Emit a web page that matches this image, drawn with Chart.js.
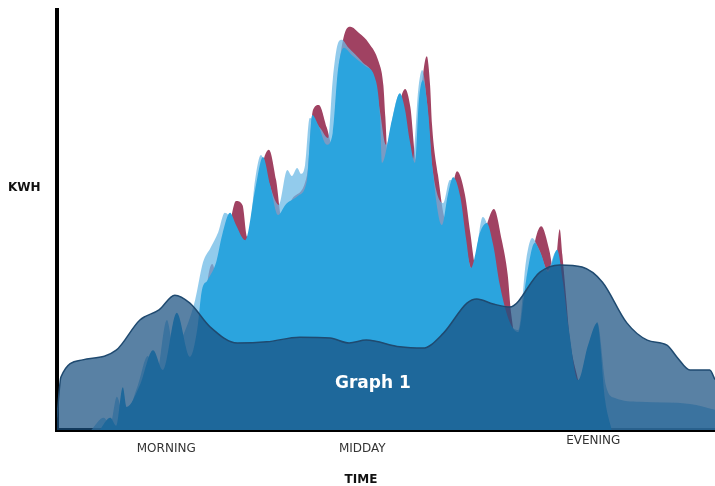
<!DOCTYPE html>
<html>
<head>
<meta charset="utf-8">
<script src="https://cdn.jsdelivr.net/npm/chart.js@4"></script>
<style>
  html, body { margin: 0; padding: 0; background: #fff; }
  #wrap { width: 715px; height: 486px; position: relative; }
</style>
</head>
<body>
<div id="wrap"><canvas id="kwhChart"></canvas></div>
<script>
// time runs 0..100 across the day, kwh 0..100
const periodLabels = ['MORNING', 'MIDDAY', 'EVENING'];
const periodAt = [16.6, 46.4, 81.5];

const brightUsage = [
    [6.5, 0], [8.1, 2.9], [9.0, 1.0], [10.0, 10.2], [10.6, 5.5], [12.6, 10.7], [14.6, 19.0],
    [16.1, 14.3], [18.2, 27.9], [20.2, 17.4], [21.3, 23.8], [22.0, 33.1], [22.9, 35.7],
    [24.2, 40.0], [25.1, 46.4], [26.3, 51.7], [27.2, 48.8], [28.6, 45.2], [30.1, 57.1],
    [31.3, 65.0], [32.4, 58.3], [33.6, 51.2], [34.7, 53.6], [36.6, 55.7], [38.0, 59.5],
    [38.8, 75.0], [39.7, 72.6], [41.0, 67.9], [41.9, 70.7], [42.7, 85.7], [43.6, 91.0],
    [44.8, 89.3], [46.8, 86.7], [48.5, 82.9], [49.1, 74.5], [49.4, 63.6], [50.9, 73.8],
    [52.1, 80.2], [52.9, 76.2], [53.6, 69.0], [54.4, 63.6], [55.0, 78.6], [55.6, 83.3],
    [56.4, 75.7], [57.1, 61.9], [58.5, 48.8], [59.4, 56.0], [60.2, 60.2], [61.3, 55.5],
    [62.2, 45.2], [62.9, 38.6], [64.3, 47.1], [65.3, 49.3], [66.3, 44.0], [67.3, 34.5],
    [68.8, 25.7], [70.1, 23.3], [71.3, 35.7], [72.6, 44.5], [73.6, 41.7], [74.6, 37.6],
    [76.0, 42.9], [76.9, 35.2], [77.8, 23.8], [79.2, 11.9], [80.7, 20.2], [82.1, 25.5],
    [83.3, 7.1], [84.3, 0]
];

const paleUsage = [
    [5.2, 0], [7.1, 2.9], [8.1, 1.2], [9.1, 7.9], [10.2, 2.9], [12.3, 10.7], [13.8, 17.6],
    [15.0, 12.4], [16.7, 26.2], [17.8, 19.0], [19.5, 23.8], [21.0, 31.0], [22.2, 40.0],
    [23.3, 43.3], [24.5, 47.1], [25.5, 51.7], [26.6, 50.0], [28.9, 42.9], [30.1, 59.5],
    [31.0, 65.5], [32.1, 59.5], [33.7, 53.6], [35.0, 61.9], [35.7, 60.5], [36.5, 62.4],
    [37.1, 61.0], [37.7, 63.1], [38.4, 74.3], [40.0, 71.9], [41.2, 69.5], [41.9, 83.3],
    [42.7, 92.1], [43.3, 92.9], [44.2, 91.2], [46.4, 87.6], [48.3, 83.3], [49.1, 75.7],
    [50.0, 67.9], [51.4, 77.4], [52.0, 79.8], [52.7, 75.0], [54.1, 64.3], [54.9, 81.0],
    [55.5, 85.7], [56.2, 78.6], [57.0, 63.1], [58.7, 54.0], [59.7, 59.5], [61.1, 56.0],
    [62.0, 45.2], [63.2, 38.1], [64.7, 50.7], [65.8, 46.4], [67.0, 34.5], [68.5, 26.2],
    [70.1, 23.8], [71.3, 40.5], [72.2, 45.7], [73.3, 42.9], [74.6, 38.1], [75.8, 42.4],
    [76.7, 34.5], [79.2, 11.2], [81.3, 21.4], [82.1, 25.7], [83.4, 10.7], [84.8, 7.6],
    [88.6, 6.7], [96.2, 6.2], [100, 4.8]
];

const peakUsage = [
    [21.5, 0], [22.6, 31.0], [23.6, 39.5], [24.3, 36.7], [25.2, 40.0], [26.4, 50.0],
    [27.2, 54.5], [28.2, 53.5], [28.9, 46.0], [29.8, 48.8], [31.2, 63.1], [32.2, 66.7],
    [33.3, 59.5], [34.2, 50.0], [35.8, 55.2], [38.0, 60.7], [38.9, 76.2], [39.8, 77.4],
    [41.0, 72.0], [41.9, 67.5], [42.8, 85.7], [43.8, 94.8], [44.6, 96.0], [45.9, 94.5],
    [47.4, 92.1], [48.9, 87.6], [49.6, 82.1], [49.9, 74.5], [50.3, 64.3], [51.8, 76.2],
    [52.9, 81.2], [53.7, 76.9], [54.6, 64.3], [55.4, 81.0], [56.2, 89.0], [56.7, 82.1],
    [57.0, 72.6], [57.9, 60.7], [59.1, 50.0], [60.8, 61.6], [62.0, 56.0], [62.8, 47.0],
    [63.6, 39.3], [65.4, 49.3], [66.4, 52.6], [67.6, 45.2], [68.5, 36.9], [69.0, 28.0],
    [70.4, 18.0], [72.5, 43.8], [73.6, 48.5], [74.8, 42.9], [75.6, 36.9], [76.4, 47.8],
    [76.8, 41.7], [77.4, 31.0], [77.9, 22.1], [79.2, 11.9], [81.0, 0]
];

const baseUsage = [
    [0, 3.0], [0.6, 12.6], [3.9, 16.7], [9.0, 19.0], [12.6, 26.2], [15.5, 28.6], [17.9, 32.1],
    [20.2, 30.2], [23.3, 24.5], [27.4, 20.7], [31.9, 21.0], [36.9, 22.1], [41.5, 21.9],
    [44.4, 20.7], [47.0, 21.4], [52.1, 19.8], [55.6, 19.5], [58.7, 23.0], [62.3, 30.2],
    [63.8, 31.2], [66.3, 30.0], [68.8, 29.3], [73.4, 37.6], [76.4, 39.3], [79.8, 38.8],
    [82.9, 35.2], [86.6, 25.5], [89.7, 21.4], [92.7, 20.2], [94.2, 17.4], [96.2, 14.3],
    [99.2, 14.3], [100, 12.0]
];

const toPoints = arr => arr.map(p => ({ x: p[0], y: p[1] }));

// higher order is drawn further back
const area = (label, data, color, order, extra) => Object.assign({
    label: label,
    data: toPoints(data),
    backgroundColor: color,
    borderWidth: 0,
    pointRadius: 0,
    fill: 'origin',
    order: order,
    cubicInterpolationMode: 'monotone'
}, extra || {});

// text labels round the plot
const labelsPlugin = {
    id: 'labels',
    afterDraw(chart) {
        const { ctx, chartArea, scales } = chart;
        ctx.save();
        ctx.textAlign = 'center';
        ctx.textBaseline = 'middle';

        ctx.fillStyle = '#333';
        ctx.font = '12px "DejaVu Sans"';
        periodLabels.forEach((t, i) => {
            const y = t === 'EVENING' ? chartArea.bottom + 11 : chartArea.bottom + 19;
            ctx.fillText(t, scales.x.getPixelForValue(periodAt[i]), y);
        });

        ctx.fillStyle = '#111';
        ctx.font = 'bold 12px "DejaVu Sans"';
        ctx.fillText('TIME', scales.x.getPixelForValue(46.2), chartArea.bottom + 50);
        ctx.textAlign = 'left';
        ctx.fillText('KWH', 8, scales.y.getPixelForValue(57.6));

        ctx.textAlign = 'center';
        ctx.fillStyle = '#fff';
        ctx.font = 'bold 17px "DejaVu Sans"';
        ctx.fillText('Graph 1', scales.x.getPixelForValue(48), scales.y.getPixelForValue(11));
        ctx.restore();
    }
};

new Chart(document.getElementById('kwhChart').getContext('2d'), {
    type: 'line',
    data: {
        datasets: [
            area('Peaks', peakUsage, '#A04262', 4),
            area('Pale', paleUsage, 'rgba(110,185,230,0.75)', 3),
            area('Usage', brightUsage, '#2BA4DE', 2),
            area('Base', baseUsage, 'rgba(25,80,129,0.72)', 1, { borderWidth: 1.5, borderColor: '#1F4A70' })
        ]
    },
    options: {
        responsive: true,
        maintainAspectRatio: false,
        animation: false,
        layout: { padding: { left: 57, top: 10, right: 0, bottom: 56 } },
        plugins: {
            legend: { display: false },
            tooltip: { enabled: false }
        },
        scales: {
            x: {
                type: 'linear',
                min: 0,
                max: 100,
                ticks: { display: false },
                grid: { display: false, drawTicks: false },
                border: { display: true, color: '#000', width: 4 }
            },
            y: {
                min: 0,
                max: 100,
                ticks: { display: false },
                grid: { display: false, drawTicks: false },
                border: { display: true, color: '#000', width: 4 }
            }
        }
    },
    plugins: [labelsPlugin]
});
</script>
</body>
</html>
